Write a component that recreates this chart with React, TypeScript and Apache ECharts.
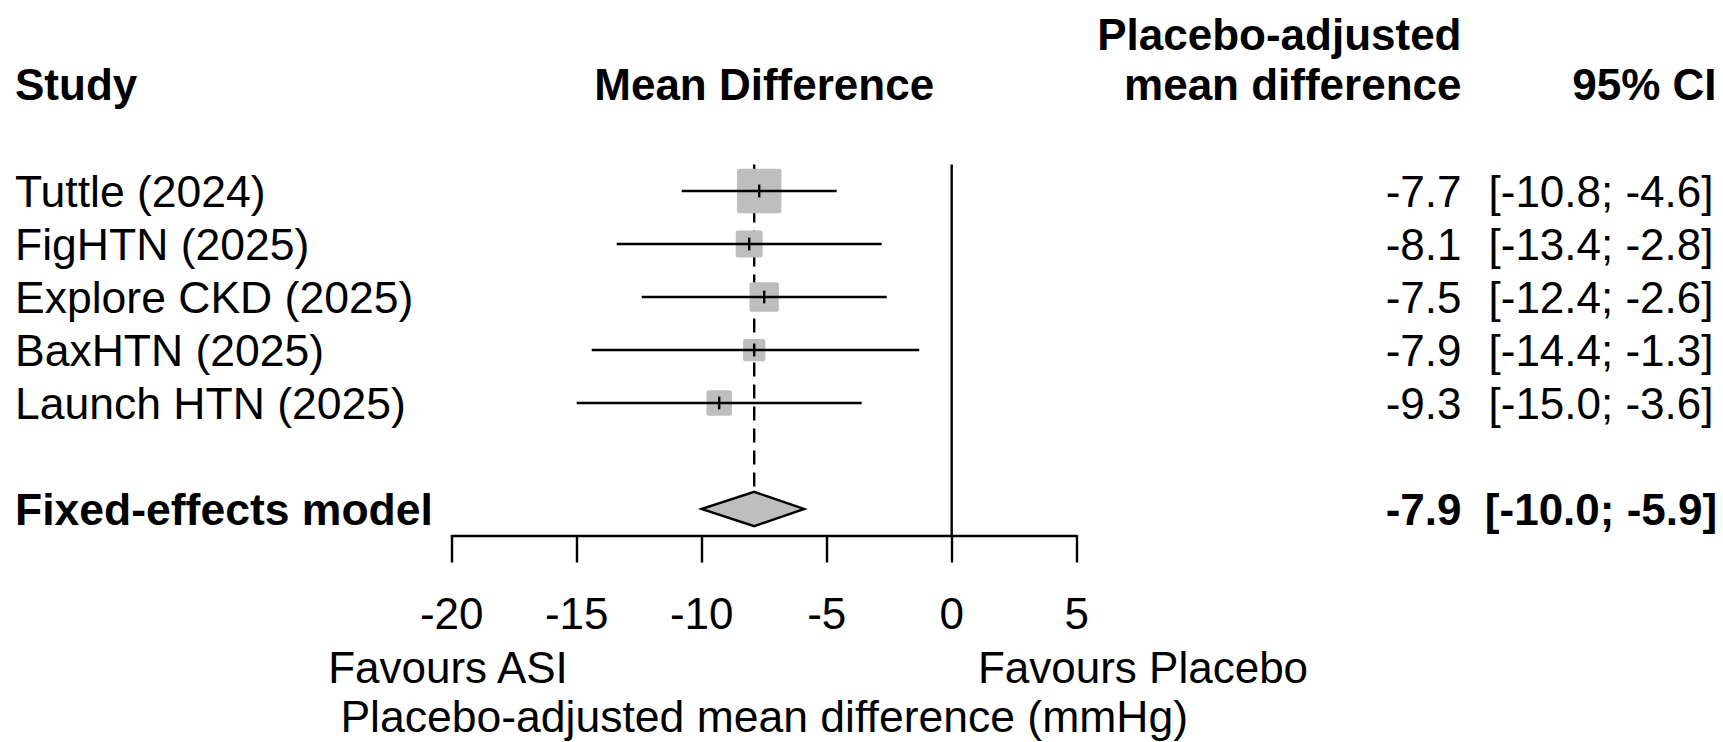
import React, { useEffect, useRef } from "react";
import * as echarts from "echarts";

// ---- data ----
const studies = ["Tuttle (2024)", "FigHTN (2025)", "Explore CKD (2025)", "BaxHTN (2025)", "Launch HTN (2025)"];
const estimates = [-7.7, -8.1, -7.5, -7.9, -9.3];
const lowerCI = [-10.8, -13.4, -12.4, -14.4, -15.0];
const upperCI = [-4.6, -2.8, -2.6, -1.3, -3.6];
const weights = [42.0, 15.5, 18.2, 10.5, 13.8]; // estimated study weights (%)

const pooledLabel = "Fixed-effects model";
const pooledEst = -7.9;
const pooledLower = -10.0;
const pooledUpper = -5.9;

const xTicks = [-20, -15, -10, -5, 0, 5];
const nullValue = 0;

const headerStudy = "Study";
const headerPlot = "Mean Difference";
const headerEst = ["Placebo-adjusted", "mean difference"];
const headerCI = "95% CI";
const labelLeft = "Favours ASI";
const labelRight = "Favours Placebo";
const xAxisTitle = "Placebo-adjusted mean difference (mmHg)";

// row layout (study rows 1..5, pooled row 7)
const studyRows = studies.map((_, i) => i + 1);
const pooledRow = 7;

const FONT = "'Liberation Sans', Arial, Helvetica, sans-serif";
const FS = 44;
const GREY = "#BEBEBE";
const LW = 2.4;

const fmt = (v: number) => v.toFixed(1);
const ciText = (lo: number, hi: number) => `[${fmt(lo)}; ${fmt(hi)}]`;

export default function App() {
  const ref = useRef<HTMLDivElement>(null);

  useEffect(() => {
    if (!ref.current) return;
    const chart = echarts.init(ref.current, undefined, { renderer: "svg" });

    const textStyle = (text: string, bold: boolean, align: string, size: number = FS) => ({
      text,
      fontSize: size,
      lineHeight: size,
      fontFamily: FONT,
      fontWeight: bold ? "bold" : "normal",
      fill: "#000",
      align,
      verticalAlign: "middle",
    });

    const squareData = studies.map((_, i) => [estimates[i], studyRows[i], weights[i]]);
    const ciData = studies.map((_, i) => [lowerCI[i], upperCI[i], studyRows[i]]);
    const tickData = studies.map((_, i) => [estimates[i], studyRows[i]]);
    const textData = studies.map((s, i) => [estimates[i], lowerCI[i], upperCI[i], studyRows[i], s, 0]);
    textData.push([pooledEst, pooledLower, pooledUpper, pooledRow, pooledLabel, 1]);

    const option: any = {
      animation: false,
      backgroundColor: "#fff",
      grid: { left: 451.7, right: 1723 - 1076.7, top: 164.5, bottom: 742 - 535.5 },
      xAxis: {
        type: "value",
        min: xTicks[0],
        max: xTicks[xTicks.length - 1],
        interval: 5,
        splitLine: { show: false },
        axisLine: { show: true, onZero: false, lineStyle: { color: "#000", width: LW } },
        axisTick: { show: true, length: 27, lineStyle: { color: "#000", width: LW } },
        axisLabel: {
          show: true,
          margin: 56,
          fontSize: FS,
          fontFamily: FONT,
          color: "#000",
          showMinLabel: true,
          showMaxLabel: true,
          hideOverlap: false,
        },
      },
      yAxis: { type: "value", min: 0.5, max: 7.5, inverse: true, show: false },
      graphic: [
        { type: "text", x: 15, y: 84, style: textStyle(headerStudy, true, "left") },
        { type: "text", x: 764.2, y: 84, style: textStyle(headerPlot, true, "center") },
        { type: "text", x: 1461.5, y: 34, style: textStyle(headerEst[0], true, "right") },
        { type: "text", x: 1461.5, y: 84, style: textStyle(headerEst[1], true, "right") },
        { type: "text", x: 1716.5, y: 84, style: textStyle(headerCI, true, "right") },
        { type: "text", x: 448, y: 667.5, style: textStyle(labelLeft, false, "center") },
        { type: "text", x: 1143, y: 667.5, style: textStyle(labelRight, false, "center") },
        { type: "text", x: 764.2, y: 716.5, style: textStyle(xAxisTitle, false, "center", 44.5) },
      ],
      series: [
        {
          type: "custom",
          name: "reference lines",
          clip: false,
          data: [[nullValue, pooledEst, pooledRow]],
          renderItem: (params: any, api: any) => {
            const top = api.coord([api.value(0), 0.5]);
            const bottom = api.coord([api.value(0), 7.5]);
            const d = api.coord([api.value(1), api.value(2)]);
            return {
              type: "group",
              children: [
                {
                  type: "line",
                  shape: { x1: top[0], y1: top[1], x2: bottom[0], y2: bottom[1] },
                  style: { stroke: "#000", lineWidth: LW },
                },
                {
                  type: "line",
                  shape: { x1: d[0], y1: top[1], x2: d[0], y2: d[1] - 17.2 },
                  style: { stroke: "#000", lineWidth: LW, lineDash: [14, 8] },
                },
              ],
            };
          },
        },
        {
          type: "custom",
          name: "squares",
          clip: false,
          data: squareData,
          renderItem: (params: any, api: any) => {
            const c = api.coord([api.value(0), api.value(1)]);
            const side = 44.5 * Math.sqrt(api.value(2) / weights[0]);
            return {
              type: "rect",
              shape: { x: c[0] - side / 2, y: c[1] - side / 2, width: side, height: side, r: 2 },
              style: { fill: GREY },
            };
          },
        },
        {
          type: "custom",
          name: "ci",
          clip: false,
          data: ciData,
          renderItem: (params: any, api: any) => {
            const a = api.coord([api.value(0), api.value(2)]);
            const b = api.coord([api.value(1), api.value(2)]);
            return {
              type: "line",
              shape: { x1: a[0], y1: a[1], x2: b[0], y2: b[1] },
              style: { stroke: "#000", lineWidth: LW },
            };
          },
        },
        {
          type: "custom",
          name: "estimate ticks",
          clip: false,
          data: tickData,
          renderItem: (params: any, api: any) => {
            const c = api.coord([api.value(0), api.value(1)]);
            return {
              type: "line",
              shape: { x1: c[0], y1: c[1] - 6.4, x2: c[0], y2: c[1] + 6.4 },
              style: { stroke: "#000", lineWidth: LW },
            };
          },
        },
        {
          type: "custom",
          name: "diamond",
          clip: false,
          data: [[pooledLower, pooledEst, pooledUpper, pooledRow]],
          renderItem: (params: any, api: any) => {
            const row = api.value(3);
            const l = api.coord([api.value(0), row]);
            const m = api.coord([api.value(1), row]);
            const r = api.coord([api.value(2), row]);
            const h = 17.2;
            return {
              type: "polygon",
              shape: { points: [[l[0], l[1]], [m[0], m[1] - h], [r[0], r[1]], [m[0], m[1] + h]] },
              style: { fill: GREY, stroke: "#000", lineWidth: LW, lineJoin: "miter" },
            };
          },
        },
        {
          type: "custom",
          name: "text columns",
          clip: false,
          data: textData,
          renderItem: (params: any, api: any) => {
            const row = api.value(3);
            const y = api.coord([0, row])[1];
            const idx = params.dataIndex;
            const item = textData[idx];
            const bold = item[5] === 1;
            return {
              type: "group",
              children: [
                { type: "text", x: 15, y, style: textStyle(String(item[4]), bold, "left", 44.5) },
                { type: "text", x: 1461.5, y, style: textStyle(fmt(item[0] as number), bold, "right") },
                { type: "text", x: 1601, y, style: textStyle(ciText(item[1] as number, item[2] as number), bold, "center") },
              ],
            };
          },
        },
      ],
    };

    chart.setOption(option);
    return () => chart.dispose();
  }, []);

  return (
    <div
      ref={ref}
      style={{ position: "fixed", left: 0, top: 0, width: 1723, height: 742, background: "#fff" }}
    />
  );
}
